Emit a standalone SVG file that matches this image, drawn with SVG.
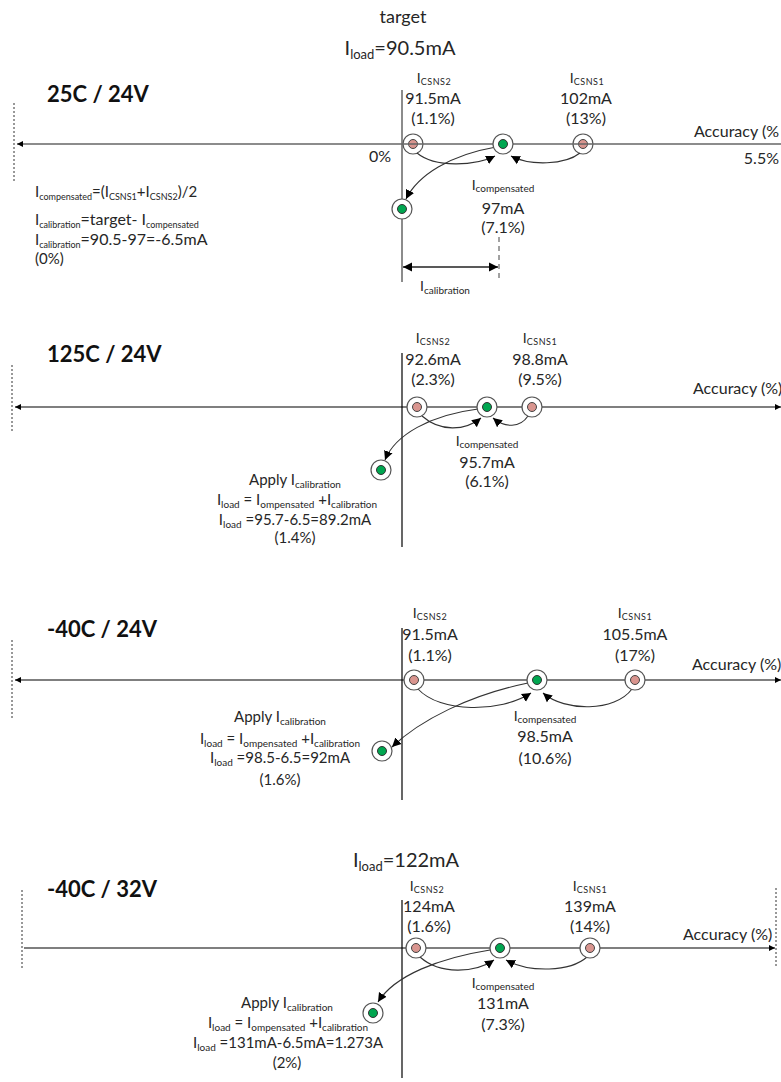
<svg xmlns="http://www.w3.org/2000/svg" width="781" height="1082" viewBox="0 0 781 1082">
<defs>
<marker id="ah" markerUnits="userSpaceOnUse" markerWidth="10" markerHeight="10" refX="9" refY="4.5" orient="auto-start-reverse" viewBox="0 0 10 9">
<path d="M0,0 L9,4.5 L0,9 z" fill="#000"/>
</marker>
<marker id="ahs" markerUnits="userSpaceOnUse" markerWidth="7" markerHeight="7" refX="6" refY="3" orient="auto-start-reverse" viewBox="0 0 7 6">
<path d="M0,0 L6,3 L0,6 z" fill="#000"/>
</marker>
</defs>
<style>
text{font-family:Lato,"Liberation Sans",sans-serif;fill:#262626}
.h{font-size:22px;font-weight:bold;fill:#111}
.v{font-size:16px;text-anchor:middle}
.lb{font-size:14px;text-anchor:middle}
.f{font-size:15px}
.ap{font-size:15px;text-anchor:middle}
.big{font-size:20px;text-anchor:middle}
.acc{font-size:16px}
.ax{stroke:#000;stroke-width:1.2;fill:none}
.ax1{stroke:#666;stroke-width:1.5;fill:none}
.dash{stroke:#333;stroke-width:1;stroke-dasharray:2 2;fill:none}
.arc{stroke:#333;stroke-width:1.1;fill:none;marker-end:url(#ah)}
.o{fill:#fff;stroke:#555;stroke-width:1.2}
.pk{fill:#d9958f;stroke:#444;stroke-width:1}
.gr{fill:#00a650;stroke:#333;stroke-width:1}
</style>

<!-- ===== Section 1 ===== -->
<g id="s1-labels">
<text x="403" y="23" style="font-size:18px;text-anchor:middle">target</text>
<text x="400" y="55" class="big">I<tspan font-size="13" dy="4">load</tspan><tspan dy="-4">=90.5mA</tspan></text>
<text x="47" y="102" class="h">25C / 24V</text>
<text x="779" y="137" class="acc" text-anchor="end">Accuracy (%</text>
<text x="779" y="164" class="acc" text-anchor="end">5.5%</text>
<text x="380" y="162" class="v">0%</text>
<text x="35" y="197" class="f">I<tspan font-size="9" dy="3">compensated</tspan><tspan dy="-3">=(I</tspan><tspan font-size="9" dy="3">CSNS1</tspan><tspan dy="-3">+I</tspan><tspan font-size="9" dy="3">CSNS2</tspan><tspan dy="-3">)/2</tspan></text>
<text x="35" y="225" class="f">I<tspan font-size="9" dy="3">calibration</tspan><tspan dy="-3" font-size="16">=target- I</tspan><tspan font-size="9" dy="3">compensated</tspan></text>
<text x="35" y="245" class="f">I<tspan font-size="9" dy="3">calibration</tspan><tspan dy="-3" font-size="16">=90.5-97=-6.5mA</tspan></text>
<text x="35" y="264" class="f">(0%)</text>
<text x="445" y="291" class="lb">I<tspan font-size="10" dy="3">calibration</tspan></text>
</g>
<g id="s1-csns2">
<text x="434" y="83" class="lb">I<tspan font-size="9" dy="2" letter-spacing="0.5">CSNS2</tspan></text>
<text x="433" y="104" class="v">91.5mA</text>
<text x="433" y="124" class="v">(1.1%)</text>
<circle cx="413" cy="144" r="10" class="o"/><circle cx="413" cy="144" r="4.5" class="pk"/>
</g>
<g id="s1-csns1">
<text x="587" y="83" class="lb">I<tspan font-size="9" dy="2" letter-spacing="0.5">CSNS1</tspan></text>
<text x="586" y="104" class="v">102mA</text>
<text x="586" y="124" class="v">(13%)</text>
<circle cx="583" cy="144" r="10" class="o"/><circle cx="583" cy="144" r="4.5" class="pk"/>
</g>
<g id="s1-comp">
<text x="503" y="190" class="lb">I<tspan font-size="10" dy="2">compensated</tspan></text>
<text x="503" y="214" class="v">97mA</text>
<text x="503" y="233" class="v">(7.1%)</text>
</g>

<!-- ===== Section 2 ===== -->
<g id="s2-labels">
<text x="47" y="362" class="h">125C / 24V</text>
<text x="693" y="394" class="acc">Accuracy (%)</text>
<text x="295" y="485" class="ap">Apply I<tspan font-size="10" dy="3">calibration</tspan></text>
<text x="297" y="505" class="ap">I<tspan font-size="10" dy="3">load</tspan><tspan dy="-3"> = I</tspan><tspan font-size="10" dy="3">ompensated</tspan><tspan dy="-3"> +I</tspan><tspan font-size="10" dy="3">calibration</tspan></text>
<text x="295" y="525" class="ap">I<tspan font-size="10" dy="3">load</tspan><tspan dy="-3"> =95.7-6.5=89.2mA</tspan></text>
<text x="295" y="543" class="ap">(1.4%)</text>
</g>
<g id="s2-csns2">
<text x="433" y="343" class="lb">I<tspan font-size="9" dy="2" letter-spacing="0.5">CSNS2</tspan></text>
<text x="433" y="365" class="v">92.6mA</text>
<text x="433" y="385" class="v">(2.3%)</text>
</g>
<g id="s2-csns1">
<text x="540" y="343" class="lb">I<tspan font-size="9" dy="2" letter-spacing="0.5">CSNS1</tspan></text>
<text x="540" y="365" class="v">98.8mA</text>
<text x="540" y="385" class="v">(9.5%)</text>
</g>
<g id="s2-comp">
<text x="487" y="446" class="lb">I<tspan font-size="10" dy="2">compensated</tspan></text>
<text x="487" y="468" class="v">95.7mA</text>
<text x="487" y="487" class="v">(6.1%)</text>
</g>

<!-- ===== Section 3 ===== -->
<g id="s3-labels">
<text x="47" y="637" class="h">-40C / 24V</text>
<text x="692" y="670" class="acc">Accuracy (%)</text>
<text x="280" y="722" class="ap">Apply I<tspan font-size="10" dy="3">calibration</tspan></text>
<text x="280" y="744" class="ap">I<tspan font-size="10" dy="3">load</tspan><tspan dy="-3"> = I</tspan><tspan font-size="10" dy="3">ompensated</tspan><tspan dy="-3"> +I</tspan><tspan font-size="10" dy="3">calibration</tspan></text>
<text x="280" y="763" class="ap">I<tspan font-size="10" dy="3">load</tspan><tspan dy="-3"> =98.5-6.5=92mA</tspan></text>
<text x="280" y="785" class="ap">(1.6%)</text>
</g>
<g id="s3-csns2">
<text x="430" y="618" class="lb">I<tspan font-size="9" dy="2" letter-spacing="0.5">CSNS2</tspan></text>
<text x="430" y="640" class="v">91.5mA</text>
<text x="430" y="661" class="v">(1.1%)</text>
</g>
<g id="s3-csns1">
<text x="635" y="618" class="lb">I<tspan font-size="9" dy="2" letter-spacing="0.5">CSNS1</tspan></text>
<text x="635" y="640" class="v">105.5mA</text>
<text x="635" y="661" class="v">(17%)</text>
</g>
<g id="s3-comp">
<text x="545" y="721" class="lb">I<tspan font-size="10" dy="2">compensated</tspan></text>
<text x="545" y="742" class="v">98.5mA</text>
<text x="545" y="764" class="v">(10.6%)</text>
</g>

<!-- ===== Section 4 ===== -->
<g id="s4-labels">
<text x="406" y="867" class="big">I<tspan font-size="13" dy="4">load</tspan><tspan dy="-4">=122mA</tspan></text>
<text x="47" y="897" class="h">-40C / 32V</text>
<text x="683" y="940" class="acc">Accuracy (%)</text>
<text x="287" y="1008" class="ap">Apply I<tspan font-size="10" dy="3">calibration</tspan></text>
<text x="288" y="1028" class="ap">I<tspan font-size="10" dy="3">load</tspan><tspan dy="-3"> = I</tspan><tspan font-size="10" dy="3">ompensated</tspan><tspan dy="-3"> +I</tspan><tspan font-size="10" dy="3">calibration</tspan></text>
<text x="288" y="1048" class="ap">I<tspan font-size="10" dy="3">load</tspan><tspan dy="-3"> =131mA-6.5mA=1.273A</tspan></text>
<text x="287" y="1068" class="ap">(2%)</text>
</g>
<g id="s4-csns2">
<text x="427" y="891" class="lb">I<tspan font-size="9" dy="2" letter-spacing="0.5">CSNS2</tspan></text>
<text x="429" y="912" class="v">124mA</text>
<text x="429" y="932" class="v">(1.6%)</text>
</g>
<g id="s4-csns1">
<text x="590" y="891" class="lb">I<tspan font-size="9" dy="2" letter-spacing="0.5">CSNS1</tspan></text>
<text x="590" y="912" class="v">139mA</text>
<text x="590" y="932" class="v">(14%)</text>
</g>
<g id="s4-comp">
<text x="503" y="988" class="lb">I<tspan font-size="10" dy="2">compensated</tspan></text>
<text x="503" y="1009" class="v">131mA</text>
<text x="503" y="1030" class="v">(7.3%)</text>
</g>

<!-- ===== Axes and connectors ===== -->
<g id="connectors">
<!-- section 1 -->
<line x1="14" y1="103" x2="14" y2="182" class="dash"/>
<line x1="781" y1="144" x2="17" y2="144" class="ax1" marker-end="url(#ahs)"/>
<line x1="402" y1="90" x2="402" y2="282" class="ax1"/>
<line x1="499" y1="237" x2="499" y2="282" stroke="#444" stroke-width="1" stroke-dasharray="5 4"/>
<line x1="403" y1="267" x2="498" y2="267" stroke="#222" stroke-width="1.3" marker-start="url(#ah)" marker-end="url(#ah)"/>
<path d="M417 153 C435 168 475 166 495 156" class="arc"/>
<path d="M580 153 C565 165 530 166 511 156" class="arc"/>
<path d="M496 147 C450 155 418 175 406 199" class="arc"/>
<!-- section 2 -->
<line x1="12" y1="365" x2="12" y2="432" class="dash"/>
<line x1="400" y1="407" x2="15" y2="407" class="ax" marker-end="url(#ahs)"/>
<line x1="400" y1="407" x2="781" y2="407" class="ax" marker-end="url(#ahs)"/>
<line x1="402" y1="353" x2="402" y2="547" class="ax"/>
<path d="M422 416 C440 432 465 431 481 418" class="arc"/>
<path d="M528 416 C520 428 505 428 493 418" class="arc"/>
<path d="M478 409 C430 415 395 435 385 460" class="arc"/>
<!-- section 3 -->
<line x1="12" y1="640" x2="12" y2="718" class="dash"/>
<line x1="400" y1="680" x2="15" y2="680" class="ax" marker-end="url(#ahs)"/>
<line x1="400" y1="680" x2="781" y2="680" class="ax" marker-end="url(#ahs)"/>
<line x1="402" y1="628" x2="402" y2="800" class="ax"/>
<path d="M418 689 C440 713 500 713 531 693" class="arc"/>
<path d="M632 689 C615 712 565 712 543 693" class="arc"/>
<path d="M528 683 C470 695 420 720 392 747" class="arc"/>
<!-- section 4 -->
<line x1="22" y1="890" x2="22" y2="968" class="dash"/>
<line x1="776" y1="888" x2="776" y2="968" class="dash"/>
<line x1="24" y1="948" x2="775" y2="948" class="ax" marker-end="url(#ahs)"/>
<line x1="402" y1="900" x2="402" y2="1078" class="ax"/>
<path d="M420 957 C440 975 475 973 494 960" class="arc"/>
<path d="M587 957 C570 972 530 973 506 960" class="arc"/>
<path d="M490 950 C440 958 395 975 378 1002" class="arc"/>
</g>

<!-- ===== Point nodes ===== -->
<g id="s1-comp-pt"><circle cx="503" cy="144" r="10" class="o"/><circle cx="503" cy="144" r="4.5" class="gr"/></g>
<g id="s1-cal-pt"><circle cx="402" cy="209" r="10" class="o"/><circle cx="402" cy="209" r="4.5" class="gr"/></g>

<g id="s2-csns2-pt"><circle cx="417" cy="407" r="10" class="o"/><circle cx="417" cy="407" r="4.5" class="pk"/></g>
<g id="s2-comp-pt"><circle cx="487" cy="407" r="10" class="o"/><circle cx="487" cy="407" r="4.5" class="gr"/></g>
<g id="s2-csns1-pt"><circle cx="532" cy="407" r="10" class="o"/><circle cx="532" cy="407" r="4.5" class="pk"/></g>
<g id="s2-cal-pt"><circle cx="381" cy="470" r="10" class="o"/><circle cx="381" cy="470" r="4.5" class="gr"/></g>

<g id="s3-csns2-pt"><circle cx="414" cy="680" r="10" class="o"/><circle cx="414" cy="680" r="4.5" class="pk"/></g>
<g id="s3-comp-pt"><circle cx="537" cy="680" r="10" class="o"/><circle cx="537" cy="680" r="4.5" class="gr"/></g>
<g id="s3-csns1-pt"><circle cx="635" cy="680" r="10" class="o"/><circle cx="635" cy="680" r="4.5" class="pk"/></g>
<g id="s3-cal-pt"><circle cx="382" cy="751" r="10" class="o"/><circle cx="382" cy="751" r="4.5" class="gr"/></g>

<g id="s4-csns2-pt"><circle cx="416" cy="948" r="10" class="o"/><circle cx="416" cy="948" r="4.5" class="pk"/></g>
<g id="s4-comp-pt"><circle cx="500" cy="948" r="10" class="o"/><circle cx="500" cy="948" r="4.5" class="gr"/></g>
<g id="s4-csns1-pt"><circle cx="590" cy="948" r="10" class="o"/><circle cx="590" cy="948" r="4.5" class="pk"/></g>
<g id="s4-cal-pt"><circle cx="373" cy="1013" r="10" class="o"/><circle cx="373" cy="1013" r="4.5" class="gr"/></g>
</svg>
